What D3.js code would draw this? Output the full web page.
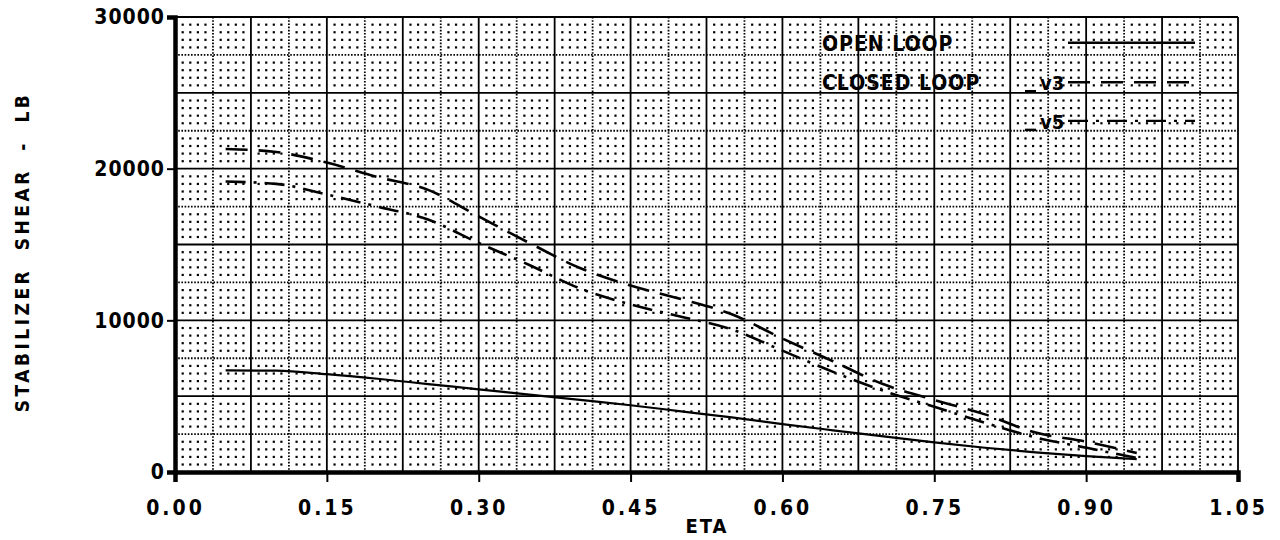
<!DOCTYPE html>
<html>
<head>
<meta charset="utf-8">
<script src="https://cdn.jsdelivr.net/npm/d3@7"></script>
<style>
	body { margin: 0; background: #fff; }
	svg { display: block; }
	text { font-family: "DejaVu Sans Condensed", "Liberation Sans Narrow", sans-serif; font-weight: bold; fill: #000; }
</style>
</head>
<body>
<div id="graphic"></div>
<script>
// data
const eta = [0.05, 0.10, 0.15, 0.20, 0.25, 0.30, 0.35, 0.40, 0.45, 0.50, 0.55, 0.60, 0.65, 0.70, 0.75, 0.80, 0.85, 0.90, 0.95];
const openLoop = [6700, 6680, 6450, 6150, 5800, 5450, 5100, 4750, 4400, 4000, 3600, 3160, 2750, 2350, 1950, 1600, 1300, 1050, 850];
const closedV3 = [21300, 21100, 20400, 19450, 18600, 16850, 15100, 13450, 12300, 11400, 10400, 8800, 7300, 5780, 4750, 3800, 2600, 2000, 1250];
const closedV5 = [19150, 19000, 18300, 17500, 16650, 15100, 13650, 12100, 11050, 10240, 9400, 8000, 6600, 5350, 4300, 3250, 2280, 1600, 920];
const xTicks = [0, 0.15, 0.30, 0.45, 0.60, 0.75, 0.90, 1.05];
const yTicks = [0, 10000, 20000, 30000];

const series = [
	{ name: 'open', values: openLoop, dash: null, w: 2.2 },
	{ name: 'v3', values: closedV3, dash: '22,11', w: 2.6 },
	{ name: 'v5', values: closedV5, dash: '20,8,3,8', w: 2.6 }
];

const width = 1280, height = 540;
const svg = d3.select('#graphic').append('svg').attr('width', width).attr('height', height);

const x = d3.scaleLinear().domain([0, 1.05]).range([175, 1238]);
const y = d3.scaleLinear().domain([0, 30000]).range([472, 17]);

const grid = svg.append('g');

// dot grid
const dotX = d3.range(0, 141).map(i => i * 0.0075).filter((d, i) => i % 5 !== 0);
const dotY = d3.range(0, 61).map(i => i * 500).filter((d, i) => i % 5 !== 0);
const dots = [];
dotX.forEach(a => dotY.forEach(b => dots.push([a, b])));
grid.append('g')
	.selectAll('rect')
	.data(dots)
	.join('rect')
	.attr('x', d => x(d[0]) - 1)
	.attr('y', d => y(d[1]) - 1)
	.attr('width', 2.2)
	.attr('height', 2.2)
	.attr('fill', '#000');

// dotted grid lines
const dottedX = d3.range(0, 28).map(i => i * 0.0375).filter((d, i) => i % 2 === 1);
const dottedY = d3.range(0, 13).map(i => i * 2500).filter((d, i) => i % 2 === 1);
grid.append('g').selectAll('line').data(dottedX).join('line')
	.attr('x1', d => x(d)).attr('x2', d => x(d))
	.attr('y1', y(30000)).attr('y2', y(0))
	.attr('stroke', '#000').attr('stroke-width', 1.8).attr('stroke-dasharray', '1.6,1.6');
grid.append('g').selectAll('line').data(dottedY).join('line')
	.attr('x1', x(0)).attr('x2', x(1.05))
	.attr('y1', d => y(d)).attr('y2', d => y(d))
	.attr('stroke', '#000').attr('stroke-width', 1.8).attr('stroke-dasharray', '1.6,1.6');

// solid grid lines
const solidX = d3.range(1, 15).map(i => i * 0.075);
const solidY = d3.range(1, 7).map(i => i * 5000);
grid.append('g').selectAll('line').data(solidX).join('line')
	.attr('x1', d => x(d)).attr('x2', d => x(d))
	.attr('y1', y(30000)).attr('y2', y(0))
	.attr('stroke', '#000').attr('stroke-width', 1.8);
grid.append('g').selectAll('line').data(solidY).join('line')
	.attr('x1', x(0)).attr('x2', x(1.05))
	.attr('y1', d => y(d)).attr('y2', d => y(d))
	.attr('stroke', '#000').attr('stroke-width', 1.8);

// axes
svg.append('g')
	.attr('transform', 'translate(0,' + y(0) + ')')
	.call(d3.axisBottom(x).tickValues(xTicks).tickSize(10).tickFormat(d3.format('.2f')))
	.call(g => g.select('.domain').attr('stroke-width', 4.5))
	.call(g => g.selectAll('.tick line').attr('stroke-width', 2))
	.call(g => g.selectAll('.tick text').attr('dy', '1.45em').style('font-size', '21px').style('letter-spacing', '3px'));

svg.append('g')
	.attr('transform', 'translate(' + x(0) + ',0)')
	.call(d3.axisLeft(y).tickValues(yTicks).tickSize(8).tickFormat(d3.format('d')))
	.call(g => g.select('.domain').attr('stroke-width', 4.5))
	.call(g => g.selectAll('.tick line').attr('stroke-width', 2))
	.call(g => g.selectAll('.tick text').attr('x', -10).style('font-size', '21px').style('letter-spacing', '1px'));

// series
const line = d3.line()
	.curve(d3.curveMonotoneX)
	.x((d, i) => x(eta[i]))
	.y(d => y(d));

svg.append('g')
	.selectAll('path')
	.data(series)
	.join('path')
	.attr('d', d => line(d.values))
	.attr('fill', 'none')
	.attr('stroke', '#000')
	.attr('stroke-width', d => d.w)
	.attr('stroke-dasharray', d => d.dash);

// legend
const legend = svg.append('g');
const legendRows = [
	{ label: 'OPEN LOOP', sub: '', dash: null, yv: 28300 },
	{ label: 'CLOSED LOOP', sub: 'v3', dash: '22,11', yv: 25700 },
	{ label: '', sub: 'v5', dash: '20,8,3,8', yv: 23150 }
];
legend.selectAll('text.lab')
	.data(legendRows.filter(d => d.label))
	.join('text')
	.attr('class', 'lab')
	.attr('x', 822)
	.attr('y', d => y(d.yv) + 8)
	.style('font-size', '21px')
	.style('letter-spacing', '1px')
	.text(d => d.label);
legend.selectAll('text.sub')
	.data(legendRows.filter(d => d.sub))
	.join('text')
	.attr('class', 'sub')
	.attr('x', 1040)
	.attr('y', d => y(d.yv) + 8)
	.style('font-size', '20px')
	.text(d => d.sub);
legend.selectAll('line.under')
	.data(legendRows.filter(d => d.sub))
	.join('line')
	.attr('class', 'under')
	.attr('x1', 1025).attr('x2', 1036)
	.attr('y1', d => y(d.yv) + 9).attr('y2', d => y(d.yv) + 9)
	.attr('stroke', '#000').attr('stroke-width', 2.5);
legend.selectAll('line.key')
	.data(legendRows)
	.join('line')
	.attr('class', 'key')
	.attr('x1', 1068).attr('x2', 1195)
	.attr('y1', d => y(d.yv)).attr('y2', d => y(d.yv))
	.attr('stroke', '#000').attr('stroke-width', 2.4)
	.attr('stroke-dasharray', d => d.dash);

// axis titles
svg.append('text')
	.attr('transform', 'translate(29,252) rotate(-90)')
	.attr('text-anchor', 'middle')
	.style('font-size', '19px')
	.style('letter-spacing', '3.5px')
	.style('word-spacing', '8px')
	.text('STABILIZER SHEAR - LB');

svg.append('text')
	.attr('x', 707)
	.attr('y', 533)
	.attr('text-anchor', 'middle')
	.style('font-size', '20px')
	.style('letter-spacing', '2px')
	.text('ETA');

svg.append('text')
	.attr('x', 62)
	.attr('y', 554)
	.style('font-size', '20px')
	.style('letter-spacing', '1px')
	.text('000000');
</script>
</body>
</html>
